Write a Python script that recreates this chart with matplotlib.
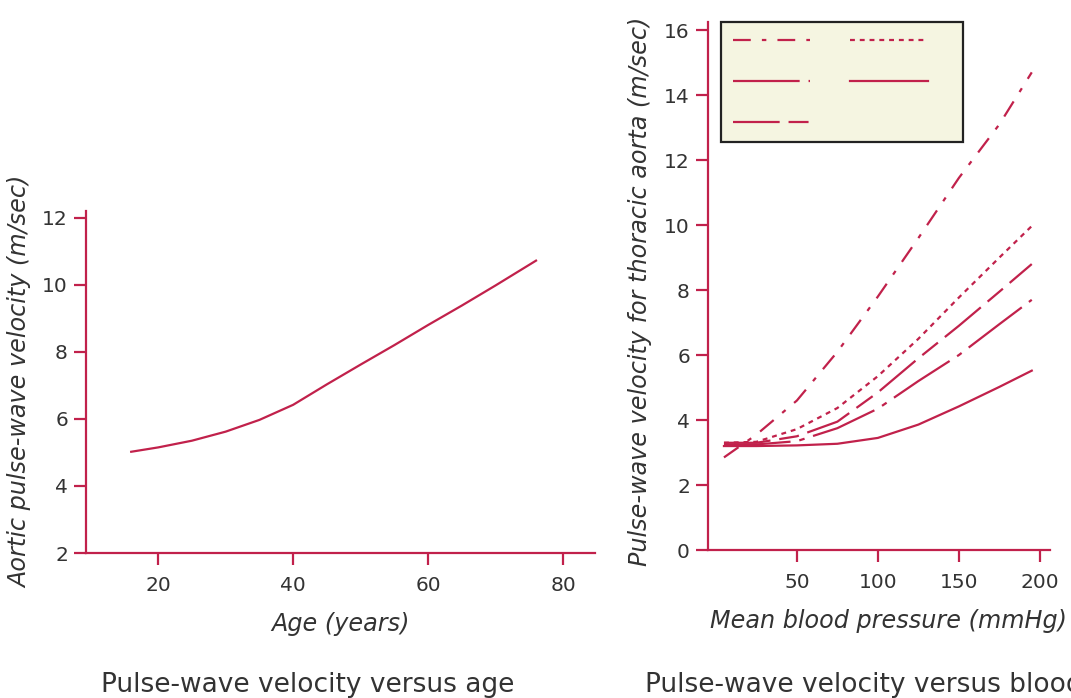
import matplotlib
matplotlib.use("Agg")
import matplotlib.pyplot as plt
from matplotlib.lines import Line2D

# left panel: aortic pulse-wave velocity vs age
age = [16, 20, 25, 30, 35, 40, 45, 50, 55, 60, 65, 70, 76]
aortic_pwv = [5.02, 5.15, 5.35, 5.62, 5.97, 6.42, 7.03, 7.62, 8.2, 8.8, 9.38, 9.98, 10.72]

# right panel: thoracic aorta pulse-wave velocity vs mean blood pressure
pressure = [5, 25, 50, 75, 100, 125, 150, 175, 195]
pwv_dashdot = [2.85, 3.55, 4.6, 6.1, 7.8, 9.6, 11.45, 13.1, 14.7]
pwv_dotted = [3.3, 3.33, 3.72, 4.37, 5.35, 6.5, 7.77, 9.0, 9.97]
pwv_longdash = [3.3, 3.3, 3.5, 3.95, 4.85, 5.9, 6.9, 7.95, 8.8]
pwv_longdot = [3.25, 3.25, 3.35, 3.75, 4.35, 5.2, 6.0, 6.95, 7.7]
pwv_solid = [3.2, 3.2, 3.22, 3.27, 3.45, 3.86, 4.42, 5.02, 5.52]

red = "#c1214b"
txt = "#333333"
lw = 1.6

plt.rcParams["font.family"] = ["DejaVu Sans"]

fig = plt.figure(figsize=(10.71, 6.98), dpi=100)
ax1 = fig.add_axes([0.0803, 0.2077, 0.475, 0.49])
ax2 = fig.add_axes([0.661, 0.212, 0.319, 0.7565])

for ax in (ax1, ax2):
    for s in ("top", "right"):
        ax.spines[s].set_visible(False)
    for s in ("left", "bottom"):
        ax.spines[s].set_color(red)
        ax.spines[s].set_linewidth(1.6)
    ax.tick_params(colors=red, labelcolor=txt, width=1.6, length=8.5,
                   labelsize=14.5, direction="out", pad=4.5)
    ax.tick_params(axis="x", pad=8)

ax1.plot(age, aortic_pwv, color=red, lw=lw)
ax1.set_xlim(9.3, 84.7)
ax1.set_ylim(2, 12.2)
ax1.set_xticks([20, 40, 60, 80])
ax1.set_yticks([2, 4, 6, 8, 10, 12])
ax1.set_xlabel("Age (years)", fontsize=17.2, style="italic", color=txt, labelpad=12)
ax1.set_ylabel("Aortic pulse-wave velocity (m/sec)", fontsize=17.2, style="italic",
               color=txt, labelpad=7)

styles = [
    (pwv_dashdot, (0, (8, 5, 2, 5))),
    (pwv_dotted, (0, (2.2, 2.2))),
    (pwv_longdash, (0, (21, 4, 9, 4))),
    (pwv_longdot, (0, (30, 4, 2.5, 4))),
    (pwv_solid, "-"),
]
for vals, ls in styles:
    ax2.plot(pressure, vals, color=red, lw=lw, linestyle=ls)

ax2.set_xlim(-4.9, 206)
ax2.set_ylim(0, 16.25)
ax2.set_xticks([50, 100, 150, 200])
ax2.set_yticks(range(0, 17, 2))
ax2.set_xlabel("Mean blood pressure (mmHg)", fontsize=17.2, style="italic",
               color=txt, labelpad=12)
ax2.xaxis.label.set_x(0.528)
ax2.set_ylabel("Pulse-wave velocity for thoracic aorta (m/sec)", fontsize=17.2,
               style="italic", color=txt, labelpad=9)
ax2.yaxis.label.set_y(0.49)

# legend samples without labels (column-major order: dash-dot, long-dot, long-dash | dotted, solid)
handles = [
    Line2D([], [], color=red, lw=lw, linestyle=styles[0][1]),
    Line2D([], [], color=red, lw=lw, linestyle=styles[3][1]),
    Line2D([], [], color=red, lw=lw, linestyle=styles[2][1]),
    Line2D([], [], color=red, lw=lw, linestyle=styles[1][1]),
    Line2D([], [], color=red, lw=lw, linestyle=styles[4][1]),
]
leg = ax2.legend(handles, [""] * 5, ncol=2, loc="upper left",
                 bbox_to_anchor=(0.038, 1.0), handlelength=5.6,
                 handletextpad=1.7, columnspacing=1.15, labelspacing=1.95,
                 fontsize=10, frameon=True, fancybox=False,
                 borderpad=0.85, borderaxespad=0.0)
frame = leg.get_frame()
frame.set_facecolor("#f5f5e1")
frame.set_edgecolor("#222222")
frame.set_linewidth(1.6)
frame.set_alpha(1)

fig.text(308 / 1071, 1 - 685 / 698, "Pulse-wave velocity versus age",
         ha="center", va="center", fontsize=19, color=txt)
fig.text(645 / 1071, 1 - 685 / 698, "Pulse-wave velocity versus blood pressure",
         ha="left", va="center", fontsize=19, color=txt)

fig.savefig("out.png", dpi=100)
